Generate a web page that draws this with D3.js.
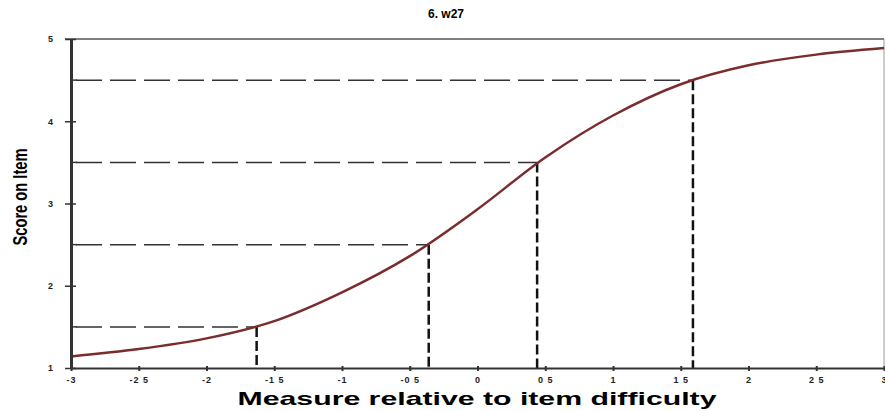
<!DOCTYPE html>
<html>
<head>
<meta charset="utf-8">
<script src="https://cdn.jsdelivr.net/npm/d3@7"></script>
<style>
  body { margin: 0; background: #fff; }
  text { font-family: "Liberation Sans", Arial, sans-serif; }
</style>
</head>
<body>
<div id="chart"></div>
<script>
// expected score curve
var measures = [-3, -2.5, -2, -1.5, -1, -0.5, 0, 0.5, 1, 1.5, 2, 2.5, 3];
var scores = [1.14, 1.23, 1.36, 1.57, 1.92, 2.36, 2.93, 3.56, 4.07, 4.45, 4.68, 4.81, 4.89];

// half-point score thresholds and where the curve crosses them
var thresholdScores = [1.5, 2.5, 3.5, 4.5];
var thresholdMeasures = [-1.63, -0.36, 0.44, 1.59];

var xTicks = [-3, -2.5, -2, -1.5, -1, -0.5, 0, 0.5, 1, 1.5, 2, 2.5, 3];
var xTickLabels = ["-3", "-2 5", "-2", "-1 5", "-1", "-0 5", "0", "0 5", "1", "1 5", "2", "2 5", "3"];
var yTicks = [1, 2, 3, 4, 5];
var yMinorTicks = [1.5, 2.5, 3.5, 4.5];

var width = 885, height = 411;
var margin = {left: 71, right: 1, top: 39, bottom: 43};

var svg = d3.select("#chart").append("svg")
    .attr("width", width)
    .attr("height", height);

var x = d3.scaleLinear().domain([-3, 3]).range([margin.left, width - margin.right]);
var y = d3.scaleLinear().domain([1, 5]).range([height - margin.bottom, margin.top]);

//title
svg.append("text")
    .attr("x", 446).attr("y", 18)
    .attr("text-anchor", "middle")
    .style("font-size", "12px").style("font-weight", "bold")
    .text("6. w27");

// frame top + right
svg.append("line")
    .attr("x1", x(-3) - 6).attr("x2", x(3))
    .attr("y1", y(5)).attr("y2", y(5))
    .style("stroke", "#555").style("stroke-width", 1.5);
svg.append("line")
    .attr("x1", x(3)).attr("x2", x(3))
    .attr("y1", y(5)).attr("y2", y(1))
    .style("stroke", "#999").style("stroke-width", 1);

// horizontal dashed guides
svg.append("g").selectAll("line")
    .data(thresholdScores)
    .enter().append("line")
    .attr("x1", x(-3) + 5)
    .attr("x2", function(d, i) { return x(thresholdMeasures[i]); })
    .attr("y1", function(d) { return y(d); })
    .attr("y2", function(d) { return y(d); })
    .style("stroke", "#333").style("stroke-width", 1.5)
    .style("stroke-dasharray", "26,8");

// vertical dashed guides
svg.append("g").selectAll("line")
    .data(thresholdMeasures)
    .enter().append("line")
    .attr("x1", function(d) { return x(d); })
    .attr("x2", function(d) { return x(d); })
    .attr("y1", function(d, i) { return y(thresholdScores[i]); })
    .attr("y2", y(1))
    .style("stroke", "#111").style("stroke-width", 2.5)
    .style("stroke-dasharray", "10,4");

// curve
var line = d3.line()
    .x(function(d, i) { return x(measures[i]); })
    .y(function(d) { return y(d); })
    .curve(d3.curveCatmullRom.alpha(0.5));

svg.append("path")
    .datum(scores)
    .attr("d", line)
    .style("fill", "none")
    .style("stroke", "#7b2c2c")
    .style("stroke-width", 2.5);

// x axis
var xAxis = d3.axisBottom(x)
    .tickValues(xTicks)
    .tickSize(4)
    .tickSizeOuter(0)
    .tickFormat(function(d, i) { return xTickLabels[i]; });

var gx = svg.append("g")
    .attr("transform", "translate(0," + y(1) + ")")
    .call(xAxis);
gx.select(".domain").style("stroke", "#333").style("stroke-width", 2);
gx.selectAll(".tick line").style("stroke", "#333").style("stroke-width", 2)
    .attr("y1", -2).attr("y2", 3);
gx.selectAll(".tick text")
    .attr("y", 9)
    .style("font-family", "Liberation Sans, Arial, sans-serif")
    .style("font-size", "9px").style("font-weight", "bold")
    .style("letter-spacing", "1px")
    .style("fill", "#222");

// y axis
var yAxis = d3.axisLeft(y)
    .tickValues(yTicks)
    .tickSize(6)
    .tickSizeOuter(0)
    .tickFormat(d3.format("d"));

var gy = svg.append("g")
    .attr("transform", "translate(" + x(-3) + ",0)")
    .call(yAxis);
gy.select(".domain").style("stroke", "#333").style("stroke-width", 3);
gy.selectAll(".tick line").style("stroke", "#333").style("stroke-width", 1.5)
    .attr("x1", 5).attr("x2", -6);
gy.selectAll(".tick text")
    .attr("x", -18)
    .style("font-family", "Liberation Sans, Arial, sans-serif")
    .style("font-size", "9px").style("font-weight", "bold")
    .style("fill", "#222");

// minor y ticks
svg.append("g").selectAll("line")
    .data(yMinorTicks)
    .enter().append("line")
    .attr("x1", x(-3)).attr("x2", x(-3) + 6)
    .attr("y1", function(d) { return y(d); })
    .attr("y2", function(d) { return y(d); })
    .style("stroke", "#333").style("stroke-width", 1.5);

// axis titles
svg.append("text")
    .attr("x", 477).attr("y", 405)
    .attr("text-anchor", "middle")
    .attr("textLength", 479).attr("lengthAdjust", "spacingAndGlyphs")
    .style("font-size", "19px").style("font-weight", "bold")
    .text("Measure relative to item difficulty");

svg.append("text")
    .attr("transform", "translate(27,197) rotate(-90)")
    .attr("text-anchor", "middle")
    .attr("textLength", 97).attr("lengthAdjust", "spacingAndGlyphs")
    .style("font-size", "21px").style("font-weight", "bold")
    .style("font-family", "'Liberation Sans Narrow', 'Liberation Sans', Arial, sans-serif")
    .text("Score on Item");
</script>
</body>
</html>
